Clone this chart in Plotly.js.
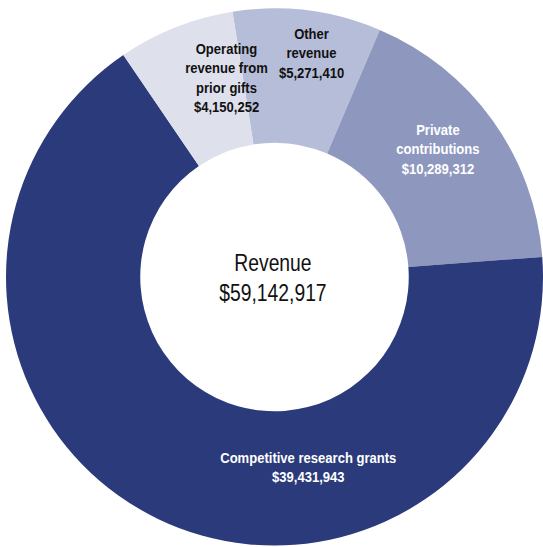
<!DOCTYPE html>
<html>
<head>
<meta charset="utf-8">
<script src="https://cdn.plot.ly/plotly-3.0.1.min.js"></script>
<style>
  html, body { margin: 0; padding: 0; background: #ffffff; }
  #chart { width: 543px; height: 547px; }
</style>
</head>
<body>
<div id="chart"></div>
<script>
// Data (clockwise order from the top)
var categories = ["Other revenue", "Private contributions", "Competitive research grants", "Operating revenue from prior gifts"];
var labelLines = ["Other<br>revenue", "Private<br>contributions", "Competitive research grants", "Operating<br>revenue from<br>prior gifts"];
var values = [5271410, 10289312, 39431943, 4150252];
var sliceColors = ["#b6bdd8", "#8e98bf", "#2b3a7a", "#dee1ec"];
var labelColors = ["#111111", "#ffffff", "#ffffff", "#111111"];
var centerTitle = "Revenue";

// label placement (pixel centres in the 543x547 frame)
var labelPos = [[311, 53], [438, 149], [308, 467], [226, 78]];

var W = 543, H = 547;
function money(v) { return "$" + v.toLocaleString("en-US"); }
var total = values.reduce(function (a, b) { return a + b; }, 0);

var FONT = "Liberation Sans, Arial, sans-serif";

var trace = {
  type: "pie",
  labels: categories,
  values: values,
  sort: false,
  direction: "clockwise",
  rotation: -9,
  hole: 0.5,
  textinfo: "none",
  hoverinfo: "label+value",
  marker: { colors: sliceColors, line: { width: 0 } },
  domain: { x: [6 / W, 1], y: [1 / H, 1 - 8 / H] },
  showlegend: false
};

var annotations = categories.map(function (c, i) {
  return {
    xref: "paper", yref: "paper",
    x: labelPos[i][0] / W, y: 1 - labelPos[i][1] / H,
    xanchor: "center", yanchor: "middle",
    showarrow: false,
    text: "<b>" + labelLines[i] + "<br>" + money(values[i]) + "</b>",
    align: "center",
    font: { family: FONT, size: 15, color: labelColors[i] }
  };
});
annotations.push({
  xref: "paper", yref: "paper",
  x: 273 / W, y: 1 - 278 / H,
  xanchor: "center", yanchor: "middle",
  showarrow: false,
  text: centerTitle + "<br>" + money(total),
  align: "center",
  font: { family: FONT, size: 23, color: "#111111" }
});

var layout = {
  width: W, height: H,
  margin: { l: 0, r: 0, t: 0, b: 0 },
  paper_bgcolor: "#ffffff",
  plot_bgcolor: "#ffffff",
  annotations: annotations
};

// narrow the annotation text horizontally to mimic a condensed typeface
function condense() {
  var texts = document.querySelectorAll("#chart .annotation-text");
  texts.forEach(function (t, i) {
    var s = (i === texts.length - 1) ? 0.84 : 0.87;
    var bb = t.getBBox();
    var cx = bb.x + bb.width / 2;
    t.setAttribute("transform", "translate(" + cx + ",0) scale(" + s + ",1) translate(" + (-cx) + ",0)");
  });
}

Plotly.newPlot("chart", [trace], layout, { displayModeBar: false, staticPlot: true }).then(condense);
</script>
</body>
</html>
